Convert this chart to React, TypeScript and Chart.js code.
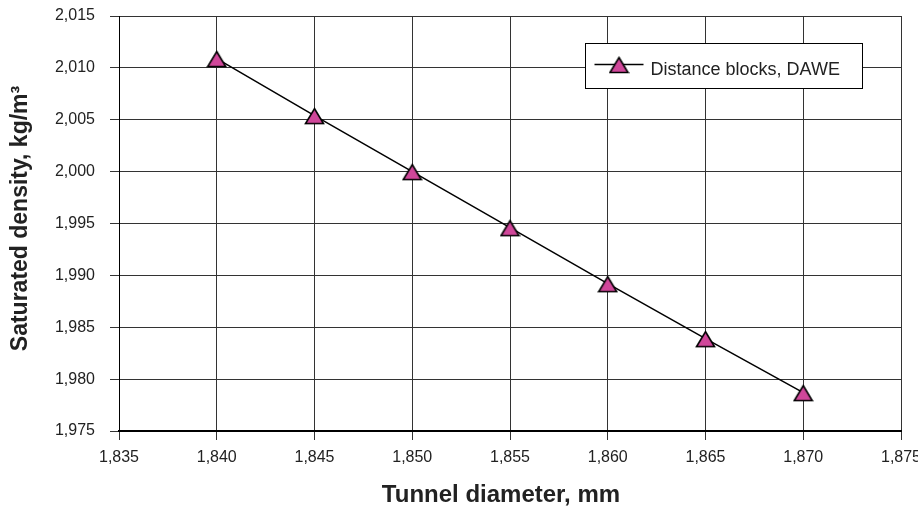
import React, { useEffect, useRef } from 'react';
import { Chart, registerables } from 'chart.js';

Chart.register(...registerables);

// ---- data ----
const diameters = [1840, 1845, 1850, 1855, 1860, 1865, 1870];
const densities = [2010.9, 2005.4, 2000.0, 1994.6, 1989.2, 1983.9, 1978.7];
const seriesLabel = 'Distance blocks, DAWE';
const xTitle = 'Tunnel diameter, mm';
const yTitle = 'Saturated density, kg/m³';
const xRange = [1835, 1875];
const yRange = [1975, 2015];
const tickStep = 5;

const FONT = "'Liberation Sans', Arial, Helvetica, sans-serif";
const MARKER_FILL = '#D0479A';

const fmt = new Intl.NumberFormat('en-US');

function makeTriangle(): HTMLCanvasElement {
  const w = 21, h = 19;
  const c = document.createElement('canvas');
  c.width = w;
  c.height = h;
  const ctx = c.getContext('2d')!;
  ctx.beginPath();
  ctx.moveTo(w / 2, 2.5);
  ctx.lineTo(w - 1.5, h - 1.5);
  ctx.lineTo(1.5, h - 1.5);
  ctx.closePath();
  ctx.fillStyle = MARKER_FILL;
  ctx.fill();
  ctx.lineWidth = 1.6;
  ctx.lineJoin = 'miter';
  ctx.strokeStyle = '#000';
  ctx.stroke();
  return c;
}

export default function App() {
  const ref = useRef<HTMLCanvasElement | null>(null);

  useEffect(() => {
    document.body.style.margin = '0';
    const canvas = ref.current;
    if (!canvas) return;
    const marker = makeTriangle();

    const decorations = {
      id: 'decorations',
      afterDraw(chart: any) {
        const ctx = chart.ctx as CanvasRenderingContext2D;
        const area = chart.chartArea;
        ctx.save();
        // axis titles
        ctx.fillStyle = '#222';
        ctx.font = `bold 24px ${FONT}`;
        ctx.textAlign = 'center';
        ctx.textBaseline = 'middle';
        ctx.fillText(xTitle, (area.left + area.right) / 2 - 9, 495);
        ctx.save();
        ctx.translate(21, (area.top + area.bottom) / 2 - 5);
        ctx.rotate(-Math.PI / 2);
        ctx.font = `bold 23px ${FONT}`;
        ctx.fillText(yTitle, 0, 0);
        ctx.restore();

        // legend box
        const x0 = 585.5, y0 = 43.5, w = 277, h = 45;
        ctx.fillStyle = '#fff';
        ctx.fillRect(x0, y0, w, h);
        ctx.strokeStyle = '#000';
        ctx.lineWidth = 1;
        ctx.strokeRect(x0, y0, w, h);
        const cy = y0 + 21;
        ctx.beginPath();
        ctx.moveTo(x0 + 9, cy);
        ctx.lineTo(x0 + 58, cy);
        ctx.lineWidth = 1.5;
        ctx.stroke();
        ctx.drawImage(marker, x0 + 33.5 - marker.width / 2, cy - marker.height / 2);
        ctx.fillStyle = '#222';
        ctx.font = `18px ${FONT}`;
        ctx.textAlign = 'left';
        ctx.textBaseline = 'alphabetic';
        ctx.fillText(chart.data.datasets[0].label, x0 + 65, cy + 10);
        ctx.restore();
      },
    };

    const chart = new Chart(canvas, {
      type: 'line',
      data: {
        datasets: [
          {
            label: seriesLabel,
            data: diameters.map((d, i) => ({ x: d, y: densities[i] })),
            borderColor: '#000',
            borderWidth: 1.5,
            pointStyle: marker as any,
            pointRadius: 9,
            pointHoverRadius: 9,
            tension: 0,
          },
        ],
      },
      options: {
        responsive: false,
        animation: false,
        events: [],
        layout: { padding: { top: 16, right: 17, left: 0, bottom: 0 } },
        plugins: {
          legend: { display: false },
          tooltip: { enabled: false },
        },
        scales: {
          x: {
            type: 'linear',
            min: xRange[0],
            max: xRange[1],
            ticks: {
              stepSize: tickStep,
              callback: (v: any) => fmt.format(Number(v)),
              font: { family: FONT, size: 16 },
              color: '#222',
              padding: 8,
              maxRotation: 0,
            },
            grid: { color: '#333', lineWidth: 1, tickLength: 9, drawTicks: true },
            border: { color: '#000', width: 2 },
            title: { display: false, text: xTitle },
            afterFit: (s: any) => {
              s.height = 79;
              s.paddingLeft = 0;
              s.paddingRight = 0;
            },
          },
          y: {
            type: 'linear',
            min: yRange[0],
            max: yRange[1],
            ticks: {
              stepSize: tickStep,
              callback: (v: any) => fmt.format(Number(v)),
              font: { family: FONT, size: 16 },
              color: '#222',
              padding: 15,
            },
            grid: { color: '#333', lineWidth: 1, tickLength: 9, drawTicks: true },
            border: { color: '#000', width: 1 },
            title: { display: false, text: yTitle },
            afterFit: (s: any) => {
              s.width = 119;
              s.paddingTop = 0;
              s.paddingBottom = 0;
            },
          },
        },
      },
      plugins: [decorations],
    });

    return () => chart.destroy();
  }, []);

  return (
    <div style={{ width: 918, height: 510 }}>
      <canvas ref={ref} width={918} height={510} style={{ display: 'block' }} />
    </div>
  );
}
